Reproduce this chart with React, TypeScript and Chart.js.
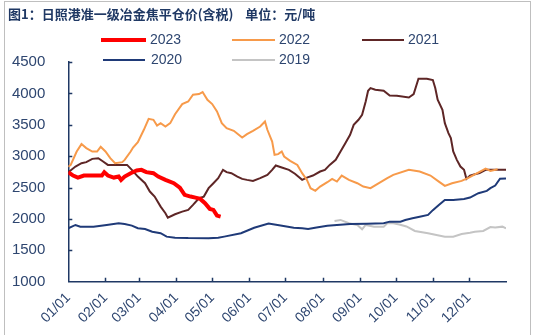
import React, { useEffect, useRef } from "react";
import { Chart, registerables } from "chart.js";

Chart.register(...registerables);

const TITLE = "图1：日照港准一级冶金焦平仓价(含税)    单位：元/吨";
const MONTH_DAYS = [0, 31, 59, 90, 120, 151, 181, 212, 243, 273, 304, 334];
const MONTH_LABELS = ["01/01", "02/01", "03/01", "04/01", "05/01", "06/01", "07/01", "08/01", "09/01", "10/01", "11/01", "12/01"];
const Y_TICKS = [1000, 1500, 2000, 2500, 3000, 3500, 4000, 4500];

const d2023 = [0, 4, 8, 13, 21, 28, 30, 33, 38, 42, 44, 47, 52, 57, 61, 65, 71, 75, 81, 88, 93, 97, 102, 106, 110, 114, 118, 121, 124, 127];
const v2023 = [2745, 2691, 2659, 2691, 2691, 2691, 2745, 2691, 2659, 2675, 2622, 2675, 2729, 2771, 2782, 2745, 2729, 2675, 2622, 2569, 2500, 2383, 2356, 2340, 2319, 2250, 2160, 2144, 2053, 2037];

const d2022 = [0, 2, 7, 11, 15, 20, 24, 27, 31, 35, 39, 45, 47, 52, 54, 58, 63, 67, 71, 74, 77, 81, 85, 89, 95, 100, 104, 109, 112, 116, 120, 124, 128, 132, 138, 145, 149, 154, 160, 164, 166, 170, 172, 175, 178, 180, 185, 191, 195, 199, 202, 206, 210, 216, 220, 224, 228, 234, 241, 246, 252, 259, 266, 271, 284, 293, 302, 309, 314, 320, 328, 334, 341, 348, 352, 358];
const v2022 = [2830, 2861, 3074, 3192, 3128, 3074, 3074, 3148, 3074, 2968, 2888, 2905, 2940, 3074, 3137, 3223, 3420, 3595, 3579, 3488, 3526, 3472, 3526, 3667, 3830, 3871, 3978, 3989, 4021, 3898, 3830, 3712, 3526, 3447, 3404, 3297, 3351, 3404, 3472, 3552, 3420, 3233, 3021, 3032, 3074, 2994, 2925, 2861, 2729, 2622, 2490, 2447, 2515, 2585, 2638, 2595, 2691, 2622, 2569, 2515, 2490, 2569, 2649, 2702, 2782, 2755, 2691, 2595, 2527, 2569, 2606, 2659, 2729, 2800, 2765, 2790];

const d2021 = [0, 6, 11, 15, 20, 25, 29, 33, 40, 49, 53, 58, 64, 68, 72, 77, 81, 83, 89, 95, 100, 104, 109, 113, 117, 121, 125, 129, 132, 136, 141, 145, 149, 154, 160, 166, 170, 173, 178, 184, 189, 195, 199, 204, 210, 214, 218, 223, 227, 231, 235, 238, 242, 245, 248, 250, 252, 256, 263, 268, 274, 284, 288, 292, 299, 304, 306, 308, 312, 314, 317, 319, 321, 324, 327, 330, 332, 335, 339, 343, 348, 365];
const v2021 = [2745, 2835, 2888, 2905, 2957, 2968, 2914, 2861, 2861, 2861, 2782, 2675, 2569, 2436, 2356, 2196, 2091, 2021, 2075, 2117, 2144, 2223, 2330, 2356, 2490, 2569, 2649, 2782, 2745, 2729, 2675, 2638, 2622, 2606, 2649, 2702, 2782, 2851, 2819, 2782, 2720, 2622, 2659, 2691, 2755, 2782, 2861, 2941, 3074, 3207, 3340, 3499, 3579, 3659, 3871, 4042, 4085, 4058, 4042, 3967, 3962, 3935, 3989, 4233, 4233, 4212, 4085, 3898, 3739, 3526, 3367, 3287, 3074, 2941, 2835, 2782, 2638, 2691, 2713, 2729, 2782, 2782];

const d2020 = [0, 6, 10, 21, 32, 42, 47, 53, 58, 64, 70, 77, 82, 89, 100, 117, 125, 130, 144, 155, 167, 177, 188, 195, 200, 207, 216, 224, 235, 249, 263, 268, 277, 281, 287, 293, 300, 304, 309, 314, 321, 330, 335, 342, 349, 352, 356, 360, 365];
const v2020 = [1852, 1904, 1877, 1877, 1904, 1931, 1920, 1893, 1852, 1840, 1797, 1772, 1718, 1702, 1695, 1692, 1700, 1718, 1772, 1860, 1925, 1895, 1860, 1852, 1840, 1862, 1893, 1904, 1920, 1925, 1931, 1957, 1957, 1984, 2011, 2035, 2064, 2140, 2223, 2303, 2303, 2316, 2340, 2410, 2447, 2490, 2531, 2640, 2645];

const d2019 = [222, 227, 234, 241, 245, 248, 255, 263, 266, 271, 276, 282, 289, 300, 307, 314, 321, 328, 335, 339, 346, 352, 356, 362, 365];
const v2019 = [1968, 1984, 1931, 1904, 1835, 1904, 1877, 1877, 1931, 1931, 1910, 1880, 1808, 1772, 1745, 1718, 1718, 1760, 1780, 1797, 1808, 1870, 1862, 1877, 1852];

const SERIES = [
  { label: "2023", days: d2023, values: v2023, color: "#FF0000", width: 4 },
  { label: "2022", days: d2022, values: v2022, color: "#F79A4A", width: 2 },
  { label: "2021", days: d2021, values: v2021, color: "#5E2626", width: 2 },
  { label: "2020", days: d2020, values: v2020, color: "#1F3A78", width: 2 },
  { label: "2019", days: d2019, values: v2019, color: "#C4C4C4", width: 2 },
];

const AXIS_COLOR = "#1F3864";
const TEXT_COLOR = "#2E4670";
const FONT = "'Liberation Sans', Arial, sans-serif";

const innerTicks = {
  id: "innerTicks",
  afterDraw(chart: any) {
    const ctx = chart.ctx;
    const xs = chart.scales.x;
    const ys = chart.scales.y;
    ctx.save();
    ctx.strokeStyle = AXIS_COLOR;
    ctx.lineWidth = 1.5;
    ctx.beginPath();
    MONTH_DAYS.slice(1).forEach((d) => {
      const px = Math.round(xs.getPixelForValue(d)) + 0.5;
      ctx.moveTo(px, ys.bottom);
      ctx.lineTo(px, ys.bottom - 4);
    });
    Y_TICKS.slice(1).forEach((v) => {
      const py = Math.round(ys.getPixelForValue(v)) + 0.5;
      ctx.moveTo(xs.left, py);
      ctx.lineTo(xs.left + 4, py);
    });
    ctx.stroke();
    ctx.restore();
  },
};

const legendRows = [
  { label: "2023", color: "#FF0000", h: 4, lineLeft: 101, lineW: 45, textLeft: 150, cy: 40 },
  { label: "2022", color: "#F79A4A", h: 2, lineLeft: 232, lineW: 43, textLeft: 279, cy: 40 },
  { label: "2021", color: "#5E2626", h: 2, lineLeft: 362, lineW: 42, textLeft: 408, cy: 40 },
  { label: "2020", color: "#1F3A78", h: 2, lineLeft: 103, lineW: 42, textLeft: 151, cy: 60 },
  { label: "2019", color: "#C4C4C4", h: 2, lineLeft: 232, lineW: 43, textLeft: 279, cy: 60 },
];

export default function App() {
  const ref = useRef<HTMLCanvasElement | null>(null);

  useEffect(() => {
    document.body.style.margin = "0";
    if (!ref.current) return;
    const chart = new Chart(ref.current, {
      type: "line",
      data: {
        datasets: SERIES.map((s) => ({
          label: s.label,
          data: s.days.map((d, i) => ({ x: d, y: s.values[i] })),
          borderColor: s.color,
          backgroundColor: s.color,
          borderWidth: s.width,
          pointRadius: 0,
          tension: 0,
          fill: false,
        })),
      },
      options: {
        animation: false,
        responsive: false,
        layout: { padding: { left: 0, right: 28, top: 62, bottom: 0 } },
        plugins: { legend: { display: false }, tooltip: { enabled: false } },
        scales: {
          x: {
            type: "linear",
            min: 0,
            max: 365,
            afterBuildTicks: (scale: any) => {
              scale.ticks = MONTH_DAYS.map((v) => ({ value: v }));
            },
            afterFit: (scale: any) => {
              scale.height = 53.3;
            },
            ticks: {
              autoSkip: false,
              minRotation: 45,
              maxRotation: 45,
              padding: 8,
              color: TEXT_COLOR,
              font: { family: FONT, size: 14 },
              callback: (v: any) => {
                const i = MONTH_DAYS.indexOf(Number(v));
                return i >= 0 ? MONTH_LABELS[i] : "";
              },
            },
            grid: { display: false, drawTicks: false },
            border: { display: true, color: AXIS_COLOR, width: 1.5 },
          },
          y: {
            min: 1000,
            max: 4500,
            afterBuildTicks: (scale: any) => {
              scale.ticks = Y_TICKS.map((v) => ({ value: v }));
            },
            afterFit: (scale: any) => {
              scale.width = 68.3;
            },
            ticks: {
              padding: 23,
              color: TEXT_COLOR,
              font: { family: FONT, size: 15 },
              callback: (v: any) => String(v),
            },
            grid: { display: false, drawTicks: false },
            border: { display: true, color: AXIS_COLOR, width: 1.5 },
          },
        },
      },
      plugins: [innerTicks],
    } as any);
    return () => chart.destroy();
  }, []);

  return (
    <div style={{ position: "absolute", left: 0, top: 0, width: 534, height: 335, background: "#fff", overflow: "hidden" }}>
      <canvas ref={ref} width={534} height={335} style={{ position: "absolute", left: 0, top: 0, width: 534, height: 335 }} />
      <div style={{ position: "absolute", left: 4, top: 1, width: 527, height: 340, border: "1px solid #BFBFBF", boxSizing: "border-box", pointerEvents: "none" }} />
      <div style={{ position: "absolute", left: 8, top: 5, font: "bold 13px 'Noto Sans CJK SC', sans-serif", color: "#1F3864", whiteSpace: "pre", lineHeight: "18px" }}>{TITLE}</div>
      {legendRows.map((r) => (
        <React.Fragment key={r.label}>
          <div style={{ position: "absolute", left: r.lineLeft, top: r.cy - r.h / 2, width: r.lineW, height: r.h, background: r.color }} />
          <div style={{ position: "absolute", left: r.textLeft, top: r.cy - 9, lineHeight: "18px", font: `14px ${FONT}`, color: TEXT_COLOR }}>{r.label}</div>
        </React.Fragment>
      ))}
    </div>
  );
}
